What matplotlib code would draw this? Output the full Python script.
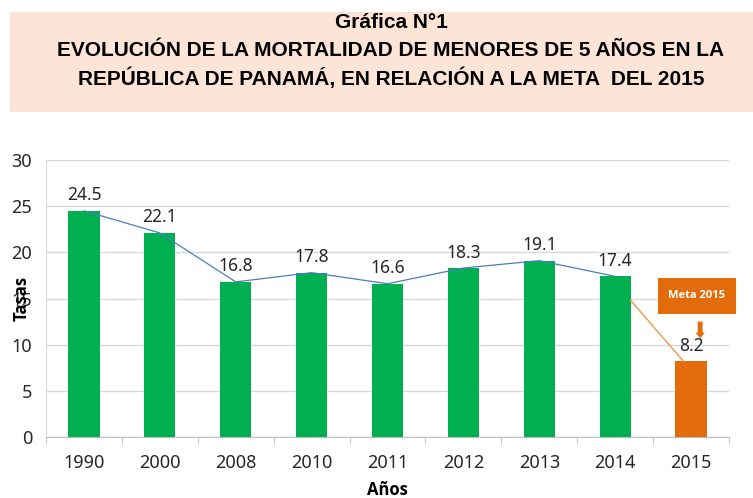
import matplotlib
matplotlib.use("Agg")
import matplotlib.pyplot as plt
from matplotlib.patches import Rectangle

# -------------------------------------------
# data

years = ["1990", "2000", "2008", "2010", "2011", "2012", "2013", "2014", "2015"]
rates = [24.5, 22.1, 16.8, 17.8, 16.6, 18.3, 19.1, 17.4, 8.2]
bar_colors = ["#00B050"] * 8 + ["#E36C0A"]
y_ticks = [0, 5, 10, 15, 20, 25, 30]

title_lines = [
    "Gráfica N°1",
    "EVOLUCIÓN DE LA MORTALIDAD DE MENORES DE 5 AÑOS EN LA",
    "REPÚBLICA DE PANAMÁ, EN RELACIÓN A LA META  DEL 2015",
]

# -------------------------------------------

plt.rcParams['font.family'] = ['Noto Sans', 'DejaVu Sans']
BOLD = ["Open Sans", "DejaVu Sans"]

fig = plt.figure(figsize=(7.53, 4.98), dpi=100)

# title banner
fig.patches.append(Rectangle((10 / 753, 1 - 112 / 498), 743 / 753, 100 / 498,
                             transform=fig.transFigure, facecolor="#FCE4D6",
                             edgecolor="none", zorder=0))
for txt, ypix in zip(title_lines, [23, 50, 78]):
    fig.text(391 / 753, 1 - ypix / 498, txt, ha="center", va="center",
             fontsize=15, fontweight="bold", family=["Liberation Sans"])

ax = fig.add_axes([46 / 753, 1 - 437 / 498, 683 / 753, 277 / 498])
x = list(range(len(years)))
bar_w = 0.41
ax.bar(x, rates, width=bar_w, color=bar_colors, zorder=3)

# trend line over the green bars
ax.plot(x[:-1], rates[:-1], color="#4A7EBB", lw=0.9, zorder=4)

# link from 2014 bar to the 2015 target
ax.plot([x[-2] + bar_w / 2, x[-1] - 0.1], [rates[-2] * 0.85, rates[-1]],
        color="#F79646", lw=1.0, zorder=4)

for xi, v in zip(x, rates):
    ax.text(xi, v + 0.7, f"{v}", ha="center", va="bottom", fontsize=12.5, color="#262626", zorder=5)

ax.set_xlim(-0.5, len(years) - 0.5)
ax.set_ylim(0, 30)
ax.set_yticks(y_ticks)
ax.set_xticks(x)
ax.set_xticklabels(years)
ax.tick_params(axis="y", length=0, labelsize=13, colors="#262626", pad=10)
ax.tick_params(axis="x", length=0, labelsize=13, colors="#262626", pad=12)
# category boundary ticks
ax.set_xticks([i - 0.5 for i in range(len(years) + 1)], minor=True)
ax.tick_params(axis="x", which="minor", length=5, color="#BFBFBF")

ax.grid(axis="y", color="#D9D9D9", lw=1, zorder=0)
for side in ["top", "right"]:
    ax.spines[side].set_visible(False)
ax.spines["left"].set_color("#D9D9D9")
ax.spines["bottom"].set_color("#BFBFBF")

ax.set_xlabel("Años", fontsize=12, fontweight="bold", family=BOLD, labelpad=7)
ax.text(-0.036, 0.5, "Tasas", transform=ax.transAxes, rotation=90, ha="center",
        va="center", fontsize=12, fontweight="bold", family=BOLD)

# "Meta 2015" callout
fig.patches.append(Rectangle((658 / 753, 1 - 314 / 498), 78 / 753, 36 / 498,
                             transform=fig.transFigure, facecolor="#E36C0A",
                             edgecolor="none"))
fig.text(697 / 753, 1 - 296 / 498, "Meta 2015", ha="center", va="center",
         fontsize=8, fontweight="bold", color="white", family=BOLD)
ax.annotate("", xy=(x[-1] + 0.12, rates[-1] + 2.2), xytext=(x[-1] + 0.12, rates[-1] + 4.6),
            arrowprops=dict(arrowstyle="simple,head_width=0.7,head_length=0.4,tail_width=0.35",
                            color="#E36C0A", lw=0))

fig.savefig("out.png", dpi=100)
